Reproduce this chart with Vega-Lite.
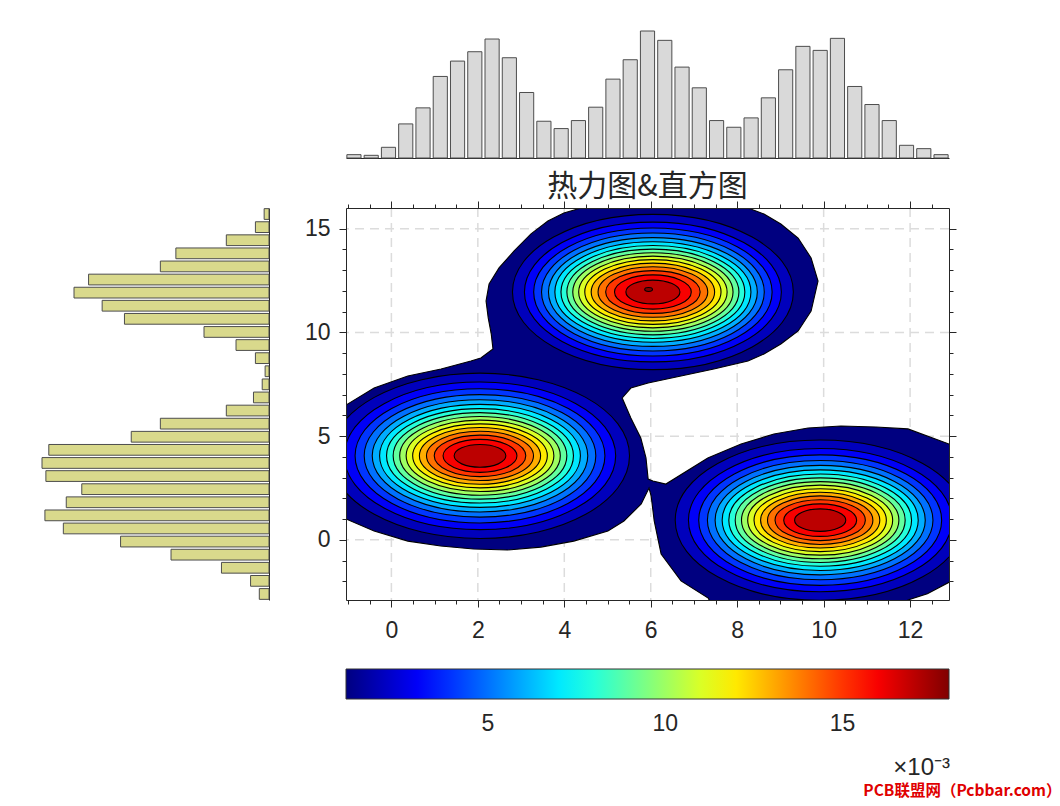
{
  "$schema": "https://vega.github.io/schema/vega-lite/v6.json",
  "background": "white",
  "padding": {"left": 41, "top": 30, "right": 5, "bottom": 5},
  "config": {
    "view": {"stroke": null},
    "font": "Liberation Sans",
    "axis": {"labelFont": "Liberation Sans", "labelColor": "#262626", "domainColor": "#262626", "tickColor": "#262626", "domainWidth": 1, "tickWidth": 1}
  },
  "title": {"text": "PCB联盟网（Pcbbar.com）", "orient": "bottom", "anchor": "end", "frame": "bounds", "dx": 105, "offset": 4, "font": "Noto Sans CJK SC", "fontSize": 15.5, "fontWeight": "bold", "color": "#e00000"},
  "columns": 2,
  "spacing": {"row": 50, "column": 77},
  "bounds": "flush",
  "resolve": {"scale": {"color": "independent", "size": "independent", "shape": "independent"}},
  "concat": [
    {
      "width": 227, "height": 127,
      "data": {"values": [{}]},
      "mark": {"type": "text", "text": ""},
      "encoding": {}
    },
    {
      "width": 603, "height": 127,
      "data": {"values": [
        {"bin": 1, "count": 5}, {"bin": 2, "count": 4}, {"bin": 3, "count": 16}, {"bin": 4, "count": 51}, {"bin": 5, "count": 75},
        {"bin": 6, "count": 122}, {"bin": 7, "count": 145}, {"bin": 8, "count": 159}, {"bin": 9, "count": 178}, {"bin": 10, "count": 150},
        {"bin": 11, "count": 98}, {"bin": 12, "count": 55}, {"bin": 13, "count": 44}, {"bin": 14, "count": 56}, {"bin": 15, "count": 76},
        {"bin": 16, "count": 118}, {"bin": 17, "count": 147}, {"bin": 18, "count": 190}, {"bin": 19, "count": 176}, {"bin": 20, "count": 136},
        {"bin": 21, "count": 105}, {"bin": 22, "count": 56}, {"bin": 23, "count": 46}, {"bin": 24, "count": 60}, {"bin": 25, "count": 90},
        {"bin": 26, "count": 132}, {"bin": 27, "count": 167}, {"bin": 28, "count": 161}, {"bin": 29, "count": 179}, {"bin": 30, "count": 107},
        {"bin": 31, "count": 80}, {"bin": 32, "count": 56}, {"bin": 33, "count": 19}, {"bin": 34, "count": 14}, {"bin": 35, "count": 5}
      ]},
      "mark": {"type": "bar", "fill": "#d9d9d9", "stroke": "#4d4d4d", "strokeWidth": 1},
      "encoding": {
        "x": {"field": "bin", "type": "ordinal", "scale": {"paddingInner": 0.18, "paddingOuter": 0.05},
              "axis": {"domain": true, "ticks": false, "labels": false, "grid": false, "title": null}},
        "y": {"field": "count", "type": "quantitative", "scale": {"domain": [0, 190], "nice": false}, "axis": null}
      }
    },
    {
      "width": 227, "height": 392,
      "data": {"values": [
        {"bin": 1, "count": 5}, {"bin": 2, "count": 14}, {"bin": 3, "count": 44}, {"bin": 4, "count": 96}, {"bin": 5, "count": 112},
        {"bin": 6, "count": 186}, {"bin": 7, "count": 201}, {"bin": 8, "count": 172}, {"bin": 9, "count": 149}, {"bin": 10, "count": 67},
        {"bin": 11, "count": 34}, {"bin": 12, "count": 14}, {"bin": 13, "count": 4}, {"bin": 14, "count": 7}, {"bin": 15, "count": 16},
        {"bin": 16, "count": 44}, {"bin": 17, "count": 112}, {"bin": 18, "count": 142}, {"bin": 19, "count": 227}, {"bin": 20, "count": 234},
        {"bin": 21, "count": 230}, {"bin": 22, "count": 193}, {"bin": 23, "count": 209}, {"bin": 24, "count": 231}, {"bin": 25, "count": 212},
        {"bin": 26, "count": 153}, {"bin": 27, "count": 101}, {"bin": 28, "count": 49}, {"bin": 29, "count": 19}, {"bin": 30, "count": 10}
      ]},
      "mark": {"type": "bar", "orient": "horizontal", "fill": "#d9d98c", "stroke": "#4d4d4d", "strokeWidth": 1},
      "encoding": {
        "y": {"field": "bin", "type": "ordinal", "scale": {"paddingInner": 0.18, "paddingOuter": 0.05},
              "axis": {"orient": "right", "domain": true, "ticks": false, "labels": false, "grid": false, "title": null}},
        "x": {"field": "count", "type": "quantitative", "scale": {"domain": [0, 234], "nice": false, "reverse": true}, "axis": null}
      }
    },
    {
      "width": 603, "height": 392,
      "title": {"text": "热力图&直方图", "font": "Noto Sans CJK SC", "fontSize": 30, "fontWeight": "normal", "color": "#262626", "offset": -1},
      "resolve": {"axis": {"x": "independent", "y": "independent"}},
      "layer": [
        {
          "data": {"values": [{"gx": 0}, {"gx": 2}, {"gx": 4}, {"gx": 6}, {"gx": 8}, {"gx": 10}, {"gx": 12}]},
          "mark": {"type": "rule", "stroke": "#dcdcdc", "strokeWidth": 1.5, "strokeDash": [9, 6]},
          "encoding": {
            "x": {"field": "gx", "type": "quantitative", "scale": {"domain": [-1.05, 12.9], "nice": false, "zero": false},
                  "axis": {"orient": "bottom", "values": [0, 2, 4, 6, 8, 10, 12], "tickSize": 7, "labelFontSize": 23, "labelPadding": 12, "labelFlush": false, "domain": true, "grid": false, "title": null, "zindex": 1}}
          }
        },
        {
          "data": {"values": [{"gy": 0}, {"gy": 5}, {"gy": 10}, {"gy": 15}]},
          "mark": {"type": "rule", "stroke": "#dcdcdc", "strokeWidth": 1.5, "strokeDash": [9, 6]},
          "encoding": {
            "y": {"field": "gy", "type": "quantitative", "scale": {"domain": [-2.9, 16], "nice": false, "zero": false},
                  "axis": {"orient": "left", "values": [0, 5, 10, 15], "tickSize": 7, "labelFontSize": 23, "labelPadding": 9, "domain": true, "grid": false, "title": null, "zindex": 1}}
          }
        },
        {
          "data": {"values": [
            {"o": 1, "x": -1.4, "y": 6.3, "lvl": 1}, {"o": 2, "x": -1.05, "y": 6.5, "lvl": 1}, {"o": 3, "x": -0.4, "y": 7.32, "lvl": 1},
            {"o": 4, "x": 0.38, "y": 7.9, "lvl": 1}, {"o": 5, "x": 1.15, "y": 8.24, "lvl": 1}, {"o": 6, "x": 1.84, "y": 8.62, "lvl": 1},
            {"o": 7, "x": 2.07, "y": 8.77, "lvl": 1}, {"o": 8, "x": 2.35, "y": 9.2, "lvl": 1}, {"o": 9, "x": 2.31, "y": 9.93, "lvl": 1},
            {"o": 10, "x": 2.24, "y": 10.7, "lvl": 1}, {"o": 11, "x": 2.19, "y": 11.52, "lvl": 1}, {"o": 12, "x": 2.26, "y": 12.34, "lvl": 1},
            {"o": 13, "x": 2.49, "y": 13.11, "lvl": 1}, {"o": 14, "x": 2.84, "y": 13.93, "lvl": 1}, {"o": 15, "x": 3.23, "y": 14.75, "lvl": 1},
            {"o": 16, "x": 3.62, "y": 15.37, "lvl": 1}, {"o": 17, "x": 3.99, "y": 15.76, "lvl": 1}, {"o": 18, "x": 4.39, "y": 16.0, "lvl": 1},
            {"o": 19, "x": 4.85, "y": 16.3, "lvl": 1}, {"o": 20, "x": 7.85, "y": 16.3, "lvl": 1}, {"o": 21, "x": 8.25, "y": 16.0, "lvl": 1},
            {"o": 22, "x": 8.62, "y": 15.71, "lvl": 1}, {"o": 23, "x": 9.01, "y": 15.23, "lvl": 1}, {"o": 24, "x": 9.41, "y": 14.55, "lvl": 1},
            {"o": 25, "x": 9.71, "y": 13.59, "lvl": 1}, {"o": 26, "x": 9.87, "y": 12.48, "lvl": 1}, {"o": 27, "x": 9.71, "y": 11.03, "lvl": 1},
            {"o": 28, "x": 9.41, "y": 10.07, "lvl": 1}, {"o": 29, "x": 9.01, "y": 9.44, "lvl": 1}, {"o": 30, "x": 8.62, "y": 8.96, "lvl": 1},
            {"o": 31, "x": 8.25, "y": 8.62, "lvl": 1}, {"o": 32, "x": 7.46, "y": 8.24, "lvl": 1}, {"o": 33, "x": 6.7, "y": 7.9, "lvl": 1},
            {"o": 34, "x": 5.94, "y": 7.56, "lvl": 1}, {"o": 35, "x": 5.54, "y": 7.32, "lvl": 1}, {"o": 36, "x": 5.34, "y": 6.84, "lvl": 1},
            {"o": 37, "x": 5.54, "y": 5.88, "lvl": 1}, {"o": 38, "x": 5.77, "y": 4.91, "lvl": 1}, {"o": 39, "x": 5.89, "y": 3.95, "lvl": 1},
            {"o": 40, "x": 5.94, "y": 2.93, "lvl": 1}, {"o": 41, "x": 6.05, "y": 2.84, "lvl": 1}, {"o": 42, "x": 6.35, "y": 2.69, "lvl": 1},
            {"o": 43, "x": 7.32, "y": 3.95, "lvl": 1}, {"o": 44, "x": 8.09, "y": 4.62, "lvl": 1}, {"o": 45, "x": 8.85, "y": 5.1, "lvl": 1},
            {"o": 46, "x": 9.64, "y": 5.39, "lvl": 1}, {"o": 47, "x": 10.4, "y": 5.49, "lvl": 1}, {"o": 48, "x": 11.21, "y": 5.44, "lvl": 1},
            {"o": 49, "x": 11.95, "y": 5.35, "lvl": 1}, {"o": 50, "x": 12.9, "y": 4.62, "lvl": 1}, {"o": 51, "x": 13.3, "y": 4.2, "lvl": 1},
            {"o": 52, "x": 13.3, "y": -1.7, "lvl": 1}, {"o": 53, "x": 12.9, "y": -2.05, "lvl": 1}, {"o": 54, "x": 12.4, "y": -2.6, "lvl": 1},
            {"o": 55, "x": 11.95, "y": -2.9, "lvl": 1}, {"o": 56, "x": 11.85, "y": -3.3, "lvl": 1}, {"o": 57, "x": 7.45, "y": -3.3, "lvl": 1},
            {"o": 58, "x": 7.33, "y": -2.81, "lvl": 1}, {"o": 59, "x": 6.7, "y": -1.98, "lvl": 1}, {"o": 60, "x": 6.24, "y": -0.68, "lvl": 1},
            {"o": 61, "x": 6.08, "y": 0.91, "lvl": 1}, {"o": 62, "x": 6.01, "y": 2.11, "lvl": 1}, {"o": 63, "x": 5.96, "y": 2.5, "lvl": 1},
            {"o": 64, "x": 5.78, "y": 1.73, "lvl": 1}, {"o": 65, "x": 5.38, "y": 0.91, "lvl": 1}, {"o": 66, "x": 5.01, "y": 0.43, "lvl": 1},
            {"o": 67, "x": 4.22, "y": -0.06, "lvl": 1}, {"o": 68, "x": 3.46, "y": -0.35, "lvl": 1}, {"o": 69, "x": 2.69, "y": -0.49, "lvl": 1},
            {"o": 70, "x": 1.9, "y": -0.44, "lvl": 1}, {"o": 71, "x": 1.14, "y": -0.3, "lvl": 1}, {"o": 72, "x": 0.38, "y": -0.06, "lvl": 1},
            {"o": 73, "x": -0.4, "y": 0.43, "lvl": 1}, {"o": 74, "x": -1.05, "y": 1.01, "lvl": 1}, {"o": 75, "x": -1.4, "y": 1.2, "lvl": 1}
          ]},
          "mark": {"type": "line", "interpolate": "linear-closed", "filled": true, "stroke": "black", "strokeWidth": 1.1, "clip": true},
          "encoding": {
            "x": {"field": "x", "type": "quantitative", "scale": {"domain": [-1.05, 12.9], "nice": false, "zero": false},
                  "axis": {"orient": "bottom", "values": [-1, -0.5, 0.5, 1, 1.5, 2.5, 3, 3.5, 4.5, 5, 5.5, 6.5, 7, 7.5, 8.5, 9, 9.5, 10.5, 11, 11.5, 12.5], "tickSize": 4, "labels": false, "domain": false, "grid": false, "title": null, "zindex": 1}},
            "y": {"field": "y", "type": "quantitative", "scale": {"domain": [-2.9, 16], "nice": false, "zero": false},
                  "axis": {"orient": "left", "values": [-2, -1, 1, 2, 3, 4, 6, 7, 8, 9, 11, 12, 13, 14], "tickSize": 4, "labels": false, "domain": false, "grid": false, "title": null, "zindex": 1}},
            "order": {"field": "o", "type": "quantitative"},
            "color": {"field": "lvl", "type": "quantitative",
                      "scale": {"domain": [1, 3.125, 7.375, 11.625, 15.875, 18], "range": ["#000080", "#0000ff", "#00ffff", "#ffff00", "#ff0000", "#800000"], "interpolate": "rgb"},
                      "legend": {"orient": "none", "legendX": 0, "legendY": 461, "direction": "horizontal", "gradientLength": 603, "gradientThickness": 30,
                                 "gradientStrokeColor": "#333333", "gradientStrokeWidth": 1, "values": [5, 10, 15],
                                 "labelFontSize": 23, "labelColor": "#262626", "labelFont": "Liberation Sans", "labelOffset": 14,
                                 "title": "×10⁻³", "titleOrient": "bottom", "titleAnchor": "end", "titleFontSize": 24, "titleFontWeight": "normal",
                                 "titleColor": "#262626", "titleFont": "Liberation Sans", "titlePadding": 20}}
          }
        },
        {
          "data": {"values": [
            {"peak": "LL", "lvl": 2, "cx": 2.05, "cy": 4.05, "a": 3.459}, {"peak": "T", "lvl": 2, "cx": 6.05, "cy": 11.95, "a": 3.249}, {"peak": "LR", "lvl": 2, "cx": 9.92, "cy": 0.95, "a": 3.354},
            {"peak": "LL", "lvl": 3, "cx": 2.05, "cy": 4.05, "a": 3.139}, {"peak": "T", "lvl": 3, "cx": 6.05, "cy": 11.95, "a": 2.972}, {"peak": "LR", "lvl": 3, "cx": 9.92, "cy": 0.95, "a": 3.048},
            {"peak": "LL", "lvl": 4, "cx": 2.05, "cy": 4.05, "a": 2.89}, {"peak": "T", "lvl": 4, "cx": 6.05, "cy": 11.95, "a": 2.758}, {"peak": "LR", "lvl": 4, "cx": 9.92, "cy": 0.95, "a": 2.81},
            {"peak": "LL", "lvl": 5, "cx": 2.05, "cy": 4.05, "a": 2.679}, {"peak": "T", "lvl": 5, "cx": 6.05, "cy": 11.95, "a": 2.577}, {"peak": "LR", "lvl": 5, "cx": 9.92, "cy": 0.95, "a": 2.609},
            {"peak": "LL", "lvl": 6, "cx": 2.05, "cy": 4.05, "a": 2.493}, {"peak": "T", "lvl": 6, "cx": 6.05, "cy": 11.95, "a": 2.416}, {"peak": "LR", "lvl": 6, "cx": 9.92, "cy": 0.95, "a": 2.431},
            {"peak": "LL", "lvl": 7, "cx": 2.05, "cy": 4.05, "a": 2.323}, {"peak": "T", "lvl": 7, "cx": 6.05, "cy": 11.95, "a": 2.268}, {"peak": "LR", "lvl": 7, "cx": 9.92, "cy": 0.95, "a": 2.268},
            {"peak": "LL", "lvl": 8, "cx": 2.05, "cy": 4.05, "a": 2.162}, {"peak": "T", "lvl": 8, "cx": 6.05, "cy": 11.95, "a": 2.127}, {"peak": "LR", "lvl": 8, "cx": 9.92, "cy": 0.95, "a": 2.114},
            {"peak": "LL", "lvl": 9, "cx": 2.05, "cy": 4.05, "a": 2.009}, {"peak": "T", "lvl": 9, "cx": 6.05, "cy": 11.95, "a": 1.99}, {"peak": "LR", "lvl": 9, "cx": 9.92, "cy": 0.95, "a": 1.966},
            {"peak": "LL", "lvl": 10, "cx": 2.05, "cy": 4.05, "a": 1.858}, {"peak": "T", "lvl": 10, "cx": 6.05, "cy": 11.95, "a": 1.854}, {"peak": "LR", "lvl": 10, "cx": 9.92, "cy": 0.95, "a": 1.821},
            {"peak": "LL", "lvl": 11, "cx": 2.05, "cy": 4.05, "a": 1.709}, {"peak": "T", "lvl": 11, "cx": 6.05, "cy": 11.95, "a": 1.717}, {"peak": "LR", "lvl": 11, "cx": 9.92, "cy": 0.95, "a": 1.677},
            {"peak": "LL", "lvl": 12, "cx": 2.05, "cy": 4.05, "a": 1.558}, {"peak": "T", "lvl": 12, "cx": 6.05, "cy": 11.95, "a": 1.576}, {"peak": "LR", "lvl": 12, "cx": 9.92, "cy": 0.95, "a": 1.531},
            {"peak": "LL", "lvl": 13, "cx": 2.05, "cy": 4.05, "a": 1.402}, {"peak": "T", "lvl": 13, "cx": 6.05, "cy": 11.95, "a": 1.428}, {"peak": "LR", "lvl": 13, "cx": 9.92, "cy": 0.95, "a": 1.379},
            {"peak": "LL", "lvl": 14, "cx": 2.05, "cy": 4.05, "a": 1.238}, {"peak": "T", "lvl": 14, "cx": 6.05, "cy": 11.95, "a": 1.269}, {"peak": "LR", "lvl": 14, "cx": 9.92, "cy": 0.95, "a": 1.219},
            {"peak": "LL", "lvl": 15, "cx": 2.05, "cy": 4.05, "a": 1.059}, {"peak": "T", "lvl": 15, "cx": 6.05, "cy": 11.95, "a": 1.093}, {"peak": "LR", "lvl": 15, "cx": 9.92, "cy": 0.95, "a": 1.045},
            {"peak": "LL", "lvl": 16, "cx": 2.05, "cy": 4.05, "a": 0.855}, {"peak": "T", "lvl": 16, "cx": 6.05, "cy": 11.95, "a": 0.888}, {"peak": "LR", "lvl": 16, "cx": 9.92, "cy": 0.95, "a": 0.844},
            {"peak": "LL", "lvl": 17, "cx": 2.05, "cy": 4.05, "a": 0.598}, {"peak": "T", "lvl": 17, "cx": 6.05, "cy": 11.95, "a": 0.625}, {"peak": "LR", "lvl": 17, "cx": 9.92, "cy": 0.95, "a": 0.592}
          ]},
          "mark": {"type": "point", "filled": true, "opacity": 1, "stroke": "black", "strokeWidth": 1.1, "clip": true},
          "encoding": {
            "x": {"field": "cx", "type": "quantitative", "scale": {"domain": [-1.05, 12.9], "nice": false, "zero": false},
                  "axis": {"orient": "top", "values": [0, 2, 4, 6, 8, 10, 12], "tickSize": 7, "labels": false, "domain": true, "grid": false, "title": null, "zindex": 1}},
            "y": {"field": "cy", "type": "quantitative", "scale": {"domain": [-2.9, 16], "nice": false, "zero": false},
                  "axis": {"orient": "right", "values": [0, 5, 10, 15], "tickSize": 7, "labels": false, "domain": true, "grid": false, "title": null, "zindex": 1}},
            "order": {"field": "lvl", "type": "quantitative"},
            "color": {"field": "lvl", "type": "quantitative",
                      "scale": {"domain": [1, 3.125, 7.375, 11.625, 15.875, 18], "range": ["#000080", "#0000ff", "#00ffff", "#ffff00", "#ff0000", "#800000"], "interpolate": "rgb"}},
            "shape": {"field": "lvl", "type": "ordinal", "legend": null,
                      "scale": {"domain": [2, 3, 4, 5, 6, 7, 8, 9, 10, 11, 12, 13, 14, 15, 16, 17],
                                "range": [
                                  "M-1,0A1,0.553,0,1,1,1,0A1,0.553,0,1,1,-1,0Z",
                                  "M-1,0A1,0.544,0,1,1,1,0A1,0.544,0,1,1,-1,0Z",
                                  "M-1,0A1,0.537,0,1,1,1,0A1,0.537,0,1,1,-1,0Z",
                                  "M-1,0A1,0.529,0,1,1,1,0A1,0.529,0,1,1,-1,0Z",
                                  "M-1,0A1,0.521,0,1,1,1,0A1,0.521,0,1,1,-1,0Z",
                                  "M-1,0A1,0.513,0,1,1,1,0A1,0.513,0,1,1,-1,0Z",
                                  "M-1,0A1,0.505,0,1,1,1,0A1,0.505,0,1,1,-1,0Z",
                                  "M-1,0A1,0.498,0,1,1,1,0A1,0.498,0,1,1,-1,0Z",
                                  "M-1,0A1,0.49,0,1,1,1,0A1,0.49,0,1,1,-1,0Z",
                                  "M-1,0A1,0.483,0,1,1,1,0A1,0.483,0,1,1,-1,0Z",
                                  "M-1,0A1,0.475,0,1,1,1,0A1,0.475,0,1,1,-1,0Z",
                                  "M-1,0A1,0.468,0,1,1,1,0A1,0.468,0,1,1,-1,0Z",
                                  "M-1,0A1,0.461,0,1,1,1,0A1,0.461,0,1,1,-1,0Z",
                                  "M-1,0A1,0.453,0,1,1,1,0A1,0.453,0,1,1,-1,0Z",
                                  "M-1,0A1,0.446,0,1,1,1,0A1,0.446,0,1,1,-1,0Z",
                                  "M-1,0A1,0.439,0,1,1,1,0A1,0.439,0,1,1,-1,0Z"
                                ]}},
            "size": {"field": "a", "type": "quantitative", "legend": null,
                     "scale": {"type": "pow", "exponent": 2, "domain": [0, 5], "range": [0, 186850], "zero": true, "nice": false}}
          }
        },
        {
          "data": {"values": [{"peak": "T", "lvl": 18, "cx": 5.95, "cy": 12.07, "a": 0.09}]},
          "mark": {"type": "point", "filled": true, "opacity": 1, "stroke": "black", "strokeWidth": 1.1, "clip": true, "shape": "M-1,0A1,0.5,0,1,1,1,0A1,0.5,0,1,1,-1,0Z"},
          "encoding": {
            "x": {"field": "cx", "type": "quantitative", "scale": {"domain": [-1.05, 12.9], "nice": false, "zero": false},
                  "axis": {"orient": "top", "values": [-1, -0.5, 0.5, 1, 1.5, 2.5, 3, 3.5, 4.5, 5, 5.5, 6.5, 7, 7.5, 8.5, 9, 9.5, 10.5, 11, 11.5, 12.5], "tickSize": 4, "labels": false, "domain": false, "grid": false, "title": null, "zindex": 1}},
            "y": {"field": "cy", "type": "quantitative", "scale": {"domain": [-2.9, 16], "nice": false, "zero": false},
                  "axis": {"orient": "right", "values": [-2, -1, 1, 2, 3, 4, 6, 7, 8, 9, 11, 12, 13, 14], "tickSize": 4, "labels": false, "domain": false, "grid": false, "title": null, "zindex": 1}},
            "color": {"field": "lvl", "type": "quantitative",
                      "scale": {"domain": [1, 3.125, 7.375, 11.625, 15.875, 18], "range": ["#000080", "#0000ff", "#00ffff", "#ffff00", "#ff0000", "#800000"], "interpolate": "rgb"}},
            "size": {"field": "a", "type": "quantitative", "legend": null,
                     "scale": {"type": "pow", "exponent": 2, "domain": [0, 5], "range": [0, 186850], "zero": true, "nice": false}}
          }
        }
      ]
    }
  ]
}
